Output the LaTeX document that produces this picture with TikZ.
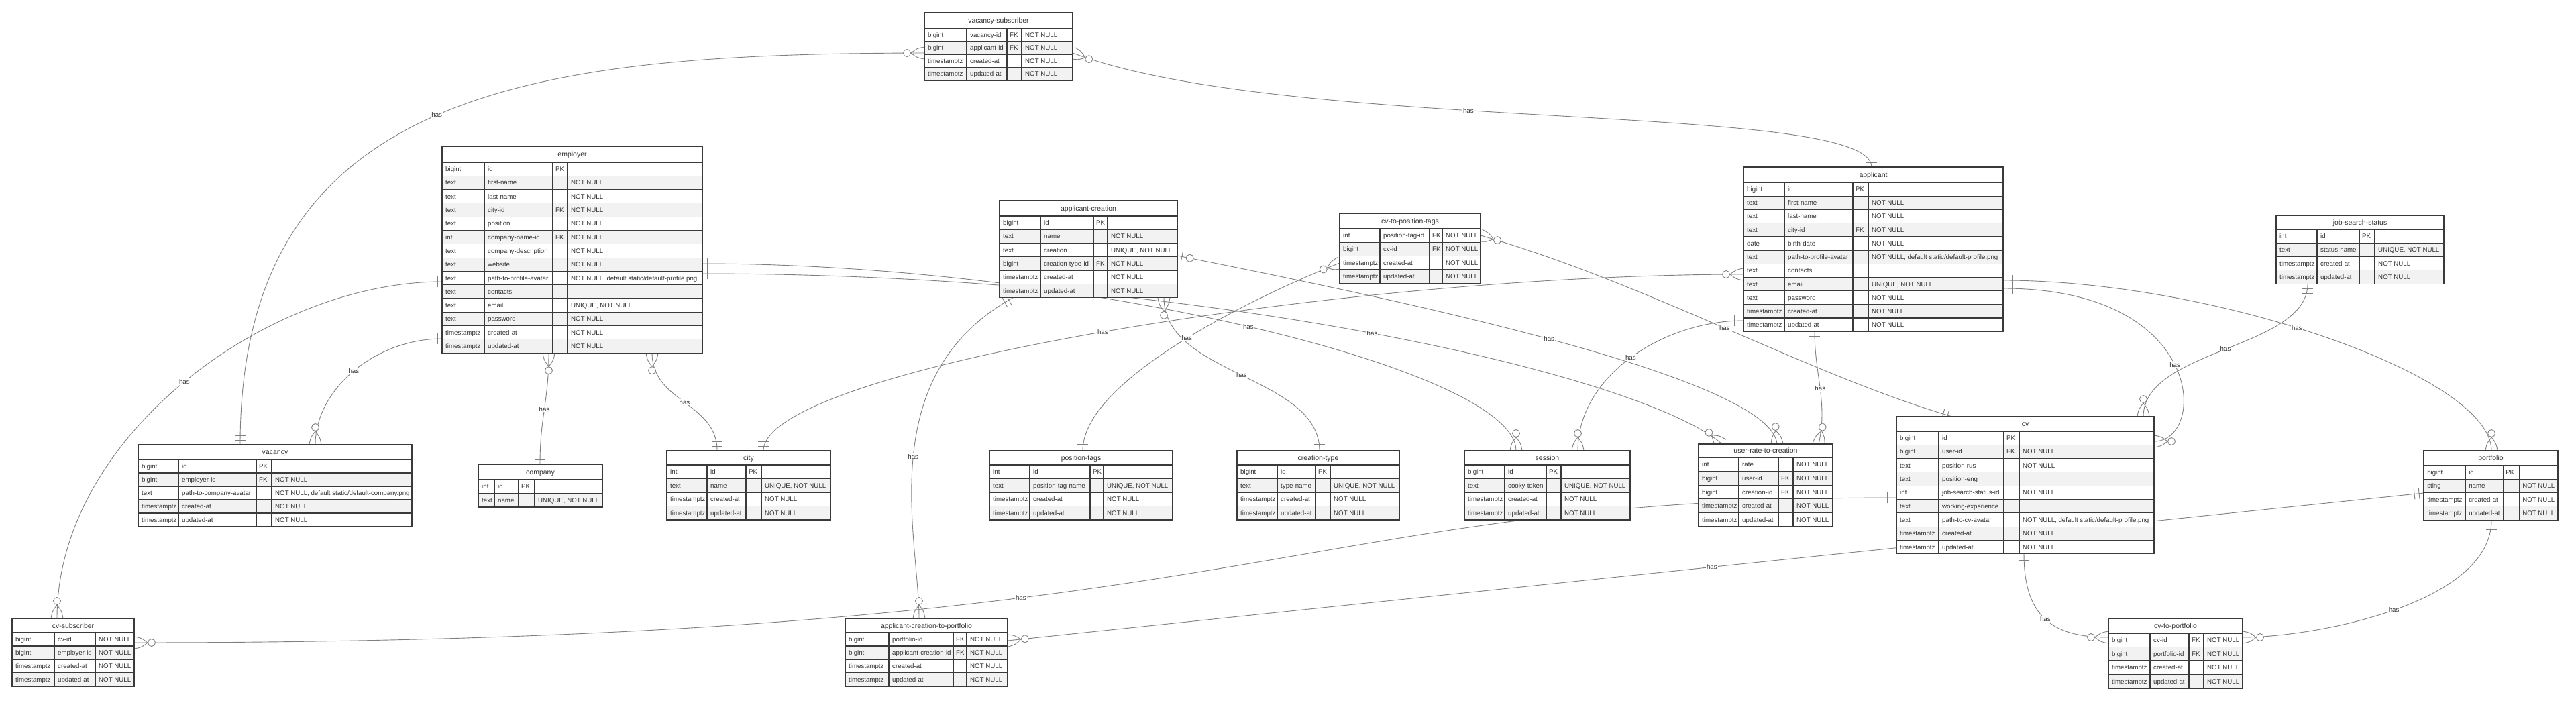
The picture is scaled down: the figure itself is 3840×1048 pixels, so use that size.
\documentclass[tikz,border=0pt]{standalone}
\usepackage{fontspec}
\setmainfont{Liberation Sans}
\usetikzlibrary{calc}
\pgfdeclarelayer{back}
\pgfdeclarelayer{bg}
\pgfsetlayers{back,bg,main}
\definecolor{tbd}{HTML}{3A3A3A}
\definecolor{talt}{HTML}{F2F2F2}
\definecolor{ttx}{HTML}{333333}
\definecolor{lnc}{HTML}{808080}
\newcommand\txtUq{UNIQUE, NOT NULL}
\newcommand\txtDefProf{NOT NULL, default static/default-profile.png}
\newcommand\txtDefComp{NOT NULL, default static/default-company.png}
\def\TH{23}
\def\RH{20.3}
\tikzset{
  celltxt/.style={anchor=base west, inner sep=0pt, font=\fontsize{9.7}{11}\selectfont, text=ttx},
  ttltxt/.style={anchor=base, inner sep=0pt, font=\fontsize{10.5}{12}\selectfont, text=ttx},
  tline/.style={draw=tbd, line width=1.1pt},
  tframe/.style={draw=tbd, line width=1.3pt, inner sep=0pt, outer sep=0pt},
  conn/.style={draw=lnc, line width=0.9pt},
  mk/.style={draw=lnc, line width=0.9pt},
  lbl/.style={font=\fontsize{9.7}{11}\selectfont, text=ttx, fill=white, inner sep=1pt},
}
% table: #1 name #2 x #3 y #4 title #5-#8 column widths #9 rows
\newcommand\ertab[9]{%
  \pgfmathsetmacro\xA{#2}%
  \pgfmathsetmacro\xB{#2+#5}%
  \pgfmathsetmacro\xC{#2+#5+#6}%
  \pgfmathsetmacro\xD{#2+#5+#6+#7}%
  \pgfmathsetmacro\xE{#2+#5+#6+#7+#8}%
  \pgfmathsetmacro\yA{#3}%
  \pgfmathsetmacro\yT{#3+\TH}%
  \foreach \a/\b/\c/\d [count=\i] in {#9} {\xdef\nR{\i}}%
  \pgfmathsetmacro\yE{\yT+\nR*\RH}%
  \pgfmathsetmacro\wT{\xE-\xA}%
  \pgfmathsetmacro\hT{\yE-\yA}%
  \fill[white] (\xA,\yA) rectangle (\xE,\yE);
  \foreach \a/\b/\c/\d [count=\i] in {#9} {%
    \pgfmathsetmacro\ya{\yT+(\i-1)*\RH}%
    \pgfmathsetmacro\yb{\yT+\i*\RH}%
    \pgfmathsetmacro\ym{\yT+(\i-0.5)*\RH}%
    \ifodd\i\relax\else\fill[talt] (\xA,\ya) rectangle (\xE,\yb);\fi
    \node[celltxt] at (\xA+5,\ym+3.5) {\a};
    \node[celltxt] at (\xB+5,\ym+3.5) {\b};
    \node[celltxt] at (\xC+4,\ym+3.5) {\c};
    \node[celltxt] at (\xD+5,\ym+3.5) {\d};
    \draw[tline] (\xA,\ya) -- (\xE,\ya);
  }%
  \draw[tline] (\xB,\yT) -- (\xB,\yE);
  \draw[tline] (\xC,\yT) -- (\xC,\yE);
  \ifdim #7pt>0pt \draw[tline] (\xD,\yT) -- (\xD,\yE);\fi
  \node[ttltxt] at ({(\xA+\xE)/2},{\yA+\TH/2+3.8}) {#4};
  \node[tframe, anchor=north west, minimum width=\wT pt, minimum height=\hT pt] (#1) at (\xA,\yA) {};
}
% markers: #1 end point, #2 direction point
\newcommand\mkMandOne[2]{%
  \coordinate (tqa) at ($(#1)!7pt!(#2)$);
  \coordinate (tqb) at ($(#1)!14pt!(#2)$);
  \draw[mk] ($(tqa)!8pt!90:(#2)$) -- ($(tqa)!8pt!-90:(#2)$);
  \draw[mk] ($(tqb)!8pt!90:(#2)$) -- ($(tqb)!8pt!-90:(#2)$);
}
\newcommand\mkOne[2]{%
  \coordinate (tqa) at ($(#1)!10pt!(#2)$);
  \draw[mk] ($(tqa)!8pt!90:(#2)$) -- ($(tqa)!8pt!-90:(#2)$);
}
\newcommand\mkZeroOne[2]{%
  \coordinate (tqa) at ($(#1)!7pt!(#2)$);
  \draw[mk] ($(tqa)!8pt!90:(#2)$) -- ($(tqa)!8pt!-90:(#2)$);
  \draw[mk,fill=white] ($(#1)!19pt!(#2)$) circle (5.5pt);
}
\newcommand\mkZeroMany[2]{%
  \coordinate (tq) at ($(#1)!20pt!(#2)$);
  \coordinate (tqm) at ($(#1)!11pt!(#2)$);
  \draw[mk] ($(#1)!9pt!90:(#2)$) .. controls ($(tqm)!7pt!90:(#2)$) .. (tq);
  \draw[mk] ($(#1)!9pt!-90:(#2)$) .. controls ($(tqm)!7pt!-90:(#2)$) .. (tq);
  \draw[mk,fill=white] ($(#1)!26pt!(#2)$) circle (5.5pt);
}
% connector: #1 start #2 c1 #3 c2 #4 end #5 start mark #6 end mark #7 label pos
\newcommand\erconn[7]{%
  \draw[conn] (#1) .. controls (#2) and (#3) .. (#4) node[lbl,pos=#7] {has};
  #5{#1}{#2}%
  #6{#4}{#3}%
}
\begin{document}
\begin{tikzpicture}[x=1pt,y=-1pt]
\useasboundingbox (0,0) rectangle (3840,1048);
\begin{pgfonlayer}{back}
\fill[white] (0,0) rectangle (3840,1048);
\end{pgfonlayer}

\def\TH{23}\def\RH{19.5}
\ertab{vacsub}{1378}{19}{vacancy-subscriber}{63}{60}{22}{76}{%
bigint/vacancy-id/FK/NOT NULL,bigint/applicant-id/FK/NOT NULL,timestamptz/created-at//NOT NULL,timestamptz/updated-at//NOT NULL}

\def\TH{24}\def\RH{20.3}
\ertab{employer}{659}{218}{employer}{63}{102}{22}{201}{%
bigint/id/PK/,text/first-name//NOT NULL,text/last-name//NOT NULL,text/city-id/FK/NOT NULL,text/position//NOT NULL,int/company-name-id/FK/NOT NULL,text/company-description//NOT NULL,text/website//NOT NULL,text/path-to-profile-avatar//\txtDefProf,text/contacts//,text/email//\txtUq,text/password//NOT NULL,timestamptz/created-at//NOT NULL,timestamptz/updated-at//NOT NULL}

\def\TH{23}\def\RH{20.3}
\ertab{acre}{1490}{299}{applicant-creation}{61}{79}{21}{104}{%
bigint/id/PK/,text/name//NOT NULL,text/creation//\txtUq,bigint/creation-type-id/FK/NOT NULL,timestamptz/created-at//NOT NULL,timestamptz/updated-at//NOT NULL}

\ertab{cvpt}{1997}{318}{cv-to-position-tags}{60}{74}{19}{57}{%
int/position-tag-id/FK/NOT NULL,bigint/cv-id/FK/NOT NULL,timestamptz/created-at//NOT NULL,timestamptz/updated-at//NOT NULL}

\def\TH{23}\def\RH{20.2}
\ertab{applicant}{2599}{249}{applicant}{61}{102}{23}{201}{%
bigint/id/PK/,text/first-name//NOT NULL,text/last-name//NOT NULL,text/city-id/FK/NOT NULL,date/birth-date//NOT NULL,text/path-to-profile-avatar//\txtDefProf,text/contacts//,text/email//\txtUq,text/password//NOT NULL,timestamptz/created-at//NOT NULL,timestamptz/updated-at//NOT NULL}

\def\TH{21}\def\RH{20.3}
\ertab{jss}{3393}{321}{job-search-status}{61}{63}{23}{103}{%
int/id/PK/,text/status-name//\txtUq,timestamptz/created-at//NOT NULL,timestamptz/updated-at//NOT NULL}

\def\TH{22}\def\RH{20}
\ertab{vacancy}{206}{663}{vacancy}{60}{116}{23}{209}{%
bigint/id/PK/,bigint/employer-id/FK/NOT NULL,text/path-to-company-avatar//\txtDefComp,timestamptz/created-at//NOT NULL,timestamptz/updated-at//NOT NULL}

\def\TH{23}\def\RH{20.5}
\ertab{company}{713}{692}{company}{24}{36}{24}{101}{%
int/id/PK/,text/name//\txtUq}

\def\TH{21}\def\RH{20.5}
\ertab{city}{994}{672}{city}{60}{58}{23}{103}{%
int/id/PK/,text/name//\txtUq,timestamptz/created-at//NOT NULL,timestamptz/updated-at//NOT NULL}

\ertab{ptags}{1475}{672}{position-tags}{60}{90}{20}{103}{%
int/id/PK/,text/position-tag-name//\txtUq,timestamptz/created-at//NOT NULL,timestamptz/updated-at//NOT NULL}

\ertab{ctype}{1844}{672}{creation-type}{60}{57}{22}{103}{%
bigint/id/PK/,text/type-name//\txtUq,timestamptz/created-at//NOT NULL,timestamptz/updated-at//NOT NULL}

\ertab{session}{2183}{672}{session}{60}{62}{22}{103}{%
bigint/id/PK/,text/cooky-token//\txtUq,timestamptz/created-at//NOT NULL,timestamptz/updated-at//NOT NULL}

\def\TH{20}\def\RH{20.6}
\ertab{urc}{2532}{662}{user-rate-to-creation}{60}{59}{22}{59}{%
int/rate//NOT NULL,bigint/user-id/FK/NOT NULL,bigint/creation-id/FK/NOT NULL,timestamptz/created-at//NOT NULL,timestamptz/updated-at//NOT NULL}

\def\TH{22}\def\RH{20.3}
\ertab{cv}{2827}{621}{cv}{63}{97}{23}{201}{%
bigint/id/PK/,bigint/user-id/FK/NOT NULL,text/position-rus//NOT NULL,text/position-eng//,int/job-search-status-id//NOT NULL,text/working-experience//,text/path-to-cv-avatar//\txtDefProf,timestamptz/created-at//NOT NULL,timestamptz/updated-at//NOT NULL}

\ertab{portfolio}{3613}{672}{portfolio}{62}{56}{24}{58}{%
bigint/id/PK/,sting/name//NOT NULL,timestamptz/created-at//NOT NULL,timestamptz/updated-at//NOT NULL}

\def\TH{22}\def\RH{20.5}
\ertab{cvport}{3143}{922}{cv-to-portfolio}{62}{58}{22}{58}{%
bigint/cv-id/FK/NOT NULL,bigint/portfolio-id/FK/NOT NULL,timestamptz/created-at//NOT NULL,timestamptz/updated-at//NOT NULL}

\def\TH{21}\def\RH{20}
\ertab{cvsub}{18}{922}{cv-subscriber}{63}{61}{0}{58}{%
bigint/cv-id//NOT NULL,bigint/employer-id//NOT NULL,timestamptz/created-at//NOT NULL,timestamptz/updated-at//NOT NULL}

\ertab{acp}{1260}{922}{applicant-creation-to-portfolio}{65}{96}{20}{61}{%
bigint/portfolio-id/FK/NOT NULL,bigint/applicant-creation-id/FK/NOT NULL,timestamptz/created-at//NOT NULL,timestamptz/updated-at//NOT NULL}

\begin{pgfonlayer}{bg}
% vacancy-subscriber -> vacancy / applicant
\coordinate (c1s) at ($(vacsub.north west)+(0,60)$);
\coordinate (c1e) at ($(vacancy.north west)+(152,0)$);
\erconn{c1s}{800,80}{358,130}{c1e}{\mkZeroMany}{\mkMandOne}{0.5}
\coordinate (c2s) at ($(vacsub.north east)+(0,60)$);
\coordinate (c2e) at ($(applicant.north west)+(191,0)$);
\erconn{c2s}{1920,200}{2790,150}{c2e}{\mkZeroMany}{\mkMandOne}{0.42}
% employer -> cv-subscriber / vacancy / company / city
\coordinate (c3s) at ($(employer.north west)+(0,202)$);
\coordinate (c3e) at ($(cvsub.north west)+(67,0)$);
\erconn{c3s}{400,420}{85,650}{c3e}{\mkMandOne}{\mkZeroMany}{0.5}
\coordinate (c4s) at ($(employer.north west)+(0,287)$);
\coordinate (c4e) at ($(vacancy.north west)+(264,0)$);
\erconn{c4s}{560,505}{470,580}{c4e}{\mkMandOne}{\mkZeroMany}{0.5}
\coordinate (c5s) at ($(employer.south west)+(159,0)$);
\coordinate (c5e) at ($(company.north west)+(92,0)$);
\erconn{c5s}{818,600}{805,620}{c5e}{\mkZeroMany}{\mkMandOne}{0.5}
\coordinate (c6s) at ($(employer.south west)+(313,0)$);
\coordinate (c6e) at ($(city.north west)+(75,0)$);
\erconn{c6s}{972,600}{1069,600}{c6e}{\mkZeroMany}{\mkMandOne}{0.5}
% applicant-creation-to-portfolio -> portfolio
\coordinate (c8s) at ($(acp.north east)+(0,33)$);
\coordinate (c8e) at ($(portfolio.north west)+(0,63)$);
\erconn{c8s}{2200,882}{2900,809}{c8e}{\mkZeroMany}{\mkMandOne}{0.5}
% cv-subscriber -> cv
\coordinate (c9s) at ($(cvsub.north east)+(0,36)$);
\coordinate (c9e) at ($(cv.north west)+(0,121)$);
\erconn{c9s}{1900,958}{1900,742}{c9e}{\mkZeroMany}{\mkMandOne}{0.37}
% cv -> cv-to-portfolio, portfolio -> cv-to-portfolio
\coordinate (c10s) at ($(cv.south west)+(190,0)$);
\coordinate (c10e) at ($(cvport.north west)+(0,28)$);
\erconn{c10s}{3017,920}{3060,950}{c10e}{\mkOne}{\mkZeroMany}{0.5}
\coordinate (c11s) at ($(portfolio.south west)+(101,0)$);
\coordinate (c11e) at ($(cvport.north east)+(0,28)$);
\erconn{c11s}{3714,900}{3450,950}{c11e}{\mkMandOne}{\mkZeroMany}{0.5}
% employer -> session / user-rate-to-creation
\coordinate (c12s) at ($(employer.north east)+(0,175)$);
\coordinate (c12e) at ($(session.north west)+(77,0)$);
\erconn{c12s}{1600,393}{2260,550}{c12e}{\mkMandOne}{\mkZeroMany}{0.5}
\coordinate (c13s) at ($(employer.north east)+(0,190)$);
\coordinate (c13e) at ($(urc.north west)+(35,0)$);
\erconn{c13s}{1800,408}{2450,560}{c13e}{\mkMandOne}{\mkZeroMany}{0.5}
% applicant-creation -> user-rate-to-creation
\coordinate (c14s) at ($(acre.north east)+(0,82)$);
\coordinate (c14e) at ($(urc.north west)+(117,0)$);
\erconn{c14s}{2050,440}{2640,560}{c14e}{\mkZeroOne}{\mkZeroMany}{0.5}
% applicant -> session / user-rate-to-creation
\coordinate (c19s) at ($(applicant.north west)+(0,229)$);
\coordinate (c19e) at ($(session.north west)+(169,0)$);
\erconn{c19s}{2480,478}{2352,560}{c19e}{\mkMandOne}{\mkZeroMany}{0.5}
\coordinate (c20s) at ($(applicant.south west)+(106,0)$);
\coordinate (c20e) at ($(urc.north west)+(179,0)$);
\erconn{c20s}{2705,560}{2725,600}{c20e}{\mkMandOne}{\mkZeroMany}{0.5}
% applicant-creation -> creation-type, cv-to-position-tags -> position-tags
\coordinate (c15s) at ($(acre.south west)+(245,0)$);
\coordinate (c15e) at ($(ctype.north west)+(123,0)$);
\erconn{c15s}{1735,560}{1967,560}{c15e}{\mkZeroMany}{\mkOne}{0.5}
\coordinate (c16s) at ($(cvpt.north west)+(0,74)$);
\coordinate (c16e) at ($(ptags.north west)+(139,0)$);
\erconn{c16s}{1900,430}{1614,560}{c16e}{\mkZeroMany}{\mkOne}{0.5}
% cv-to-position-tags -> cv
\coordinate (c17s) at ($(cvpt.north east)+(0,33)$);
\coordinate (c17e) at ($(cv.north west)+(83,0)$);
\erconn{c17s}{2450,420}{2700,560}{c17e}{\mkZeroMany}{\mkMandOne}{0.5}
% applicant -> city
\coordinate (c18s) at ($(applicant.north west)+(0,160)$);
\coordinate (c18e) at ($(city.north west)+(144,0)$);
\erconn{c18s}{2000,409}{1138,550}{c18e}{\mkZeroMany}{\mkMandOne}{0.5}
% applicant-creation -> applicant-creation-to-portfolio
\coordinate (c21s) at ($(acre.south west)+(20,0)$);
\coordinate (c21e) at ($(acp.north west)+(110,0)$);
\erconn{c21s}{1300,560}{1370,800}{c21e}{\mkMandOne}{\mkZeroMany}{0.5}
% applicant -> cv, job-search-status -> cv, applicant -> portfolio
\coordinate (c22s) at ($(applicant.north east)+(0,181)$);
\coordinate (c22e) at ($(cv.north east)+(0,37)$);
\erconn{c22s}{3290,430}{3290,658}{c22e}{\mkMandOne}{\mkZeroMany}{0.5}
\coordinate (c23s) at ($(jss.south west)+(47,0)$);
\coordinate (c23e) at ($(cv.north east)+(-16,0)$);
\erconn{c23s}{3440,520}{3195,520}{c23e}{\mkMandOne}{\mkZeroMany}{0.5}
\coordinate (c24s) at ($(applicant.north east)+(0,169)$);
\coordinate (c24e) at ($(portfolio.north west)+(101,0)$);
\erconn{c24s}{3300,418}{3714,560}{c24e}{\mkMandOne}{\mkZeroMany}{0.45}
\end{pgfonlayer}
\end{tikzpicture}
\end{document}
